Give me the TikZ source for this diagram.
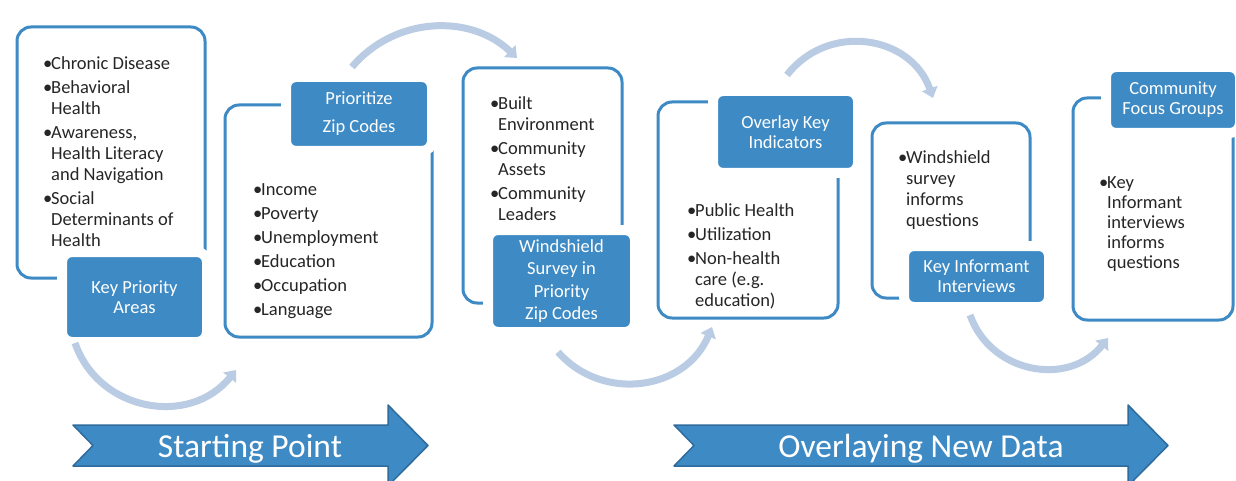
\documentclass[tikz,border=0pt]{standalone}
\usepackage{fontspec}
\setmainfont{Carlito}
\usepackage{xcolor}
\usetikzlibrary{arrows.meta}

\definecolor{keyblue}{RGB}{62,138,196}
\definecolor{keyedge}{RGB}{47,107,156}
\definecolor{flowblue}{RGB}{185,204,228}
\definecolor{bodytext}{RGB}{38,38,38}

\newcommand{\bl}{\makebox[8pt][l]{\textbullet}}
\newcommand{\hi}{\hspace*{8pt}}

\tikzset{
	frame/.style={draw=keyblue, line width=3pt, rounded corners=14pt, inner sep=0pt, outer sep=0pt},
	tag/.style={fill=keyblue, draw=white, line width=10pt, rounded corners=10pt, text=white, align=center, inner sep=0pt, font=\fontsize{18.5}{20}\selectfont},
	items/.style={anchor=north west, align=left, inner sep=0pt, text=bodytext, font=\fontsize{18.5}{21}\selectfont},
	flow/.style={draw=flowblue, line width=7pt, -{Triangle[width=16pt,length=10pt]}},
	banner/.style={fill=keyblue, draw=keyedge, line width=1.5pt, line join=round},
	bannertext/.style={anchor=base, text=white, inner sep=0pt, font=\fontsize{33.5}{36}\selectfont}
}

\begin{document}
\begin{tikzpicture}[x=1pt,y=-1pt]
		\useasboundingbox (0,0) rectangle (1236,481);
		\fill[white] (0,0) rectangle (1236,481);
		
		\node[frame, minimum width=188, minimum height=251] (kpaF) at (111,152.5) {};
		\node[frame, minimum width=207, minimum height=232] (pzcF) at (328.5,221) {};
		\node[frame, minimum width=159, minimum height=235] (wsF) at (542.5,185.5) {};
		\node[frame, minimum width=180, minimum height=216] (okiF) at (748,210) {};
		\node[frame, minimum width=158, minimum height=175] (kiiF) at (951,210.5) {};
		\node[frame, minimum width=160, minimum height=222] (cfgF) at (1153,209) {};
		
		\node[tag, minimum width=145, minimum height=90] (kpa) at (134.5,297) {Key Priority\\Areas};
		\node[tag, minimum width=146, minimum height=74, font=\fontsize{18.5}{28}\selectfont] (pzc) at (359,114) {Prioritize\\Zip Codes};
		\node[tag, minimum width=147, minimum height=102, font=\fontsize{18.5}{22.5}\selectfont] (ws) at (561.5,281) {Windshield\\Survey in\\Priority\\Zip Codes};
		\node[tag, minimum width=145, minimum height=82] (oki) at (785.5,132) {Overlay Key\\Indicators};
		\node[tag, minimum width=145, minimum height=61] (kii) at (976.5,276.5) {Key Informant\\Interviews};
		\node[tag, minimum width=134, minimum height=66] (cfg) at (1173,100) {Community\\Focus Groups};
		
		\node[items] (kpaT) at (43,56) {\bl Chronic Disease\\[3pt]\bl Behavioral\\\hi Health\\[3pt]\bl Awareness,\\\hi Health Literacy\\\hi and Navigation\\[3pt]\bl Social\\\hi Determinants of\\\hi Health};
		\node[items] (pzcT) at (253,183) {\bl Income\\[3pt]\bl Poverty\\[3pt]\bl Unemployment\\[3pt]\bl Education\\[3pt]\bl Occupation\\[3pt]\bl Language};
		\node[items] (wsT) at (490,96) {\bl Built\\\hi Environment\\[3pt]\bl Community\\\hi Assets\\[3pt]\bl Community\\\hi Leaders};
		\node[items] (okiT) at (687,203) {\bl Public Health\\[3pt]\bl Utilization\\[3pt]\bl Non-health\\\hi care (e.g.\\\hi education)};
		\node[items] (kiiT) at (898,150) {\bl Windshield\\\hi survey\\\hi informs\\\hi questions};
		\node[items, font=\fontsize{18.5}{20}\selectfont] (cfgT) at (1099,176) {\bl Key\\\hi Informant\\\hi interviews\\\hi informs\\\hi questions};
		
		\coordinate (f1a) at (75,343);   \coordinate (f1b) at (236,370);
		\coordinate (f2a) at (352,67);   \coordinate (f2b) at (517,58);
		\coordinate (f3a) at (558,352);  \coordinate (f3b) at (712,327);
		\coordinate (f4a) at (787,75);   \coordinate (f4b) at (933,98);
		\coordinate (f5a) at (970,315);  \coordinate (f5b) at (1108,338);
		
		\draw[flow] (f1a) .. controls (99,412) and (190,427) .. (f1b);
		\draw[flow] (f2a) .. controls (394,17) and (470,13) .. (f2b);
		\draw[flow] (f3a) .. controls (603,403) and (686,390) .. (f3b);
		\draw[flow] (f4a) .. controls (828,22) and (911,35) .. (f4b);
		\draw[flow] (f5a) .. controls (991,374) and (1069,387) .. (f5b);
		
		\draw[banner] (73,425) -- (388,425) -- (388,405) -- (428,445.5) -- (388,486) -- (388,466) -- (73,466) -- (93,445.5) -- cycle;
		\draw[banner] (674,425) -- (1128,425) -- (1128,405) -- (1168,445.5) -- (1128,486) -- (1128,466) -- (674,466) -- (694,445.5) -- cycle;
		\node[bannertext] (start) at (250,457) {Starting Point};
		\node[bannertext] (overlay) at (921,457) {Overlaying New Data};
	\end{tikzpicture}
\end{document}
